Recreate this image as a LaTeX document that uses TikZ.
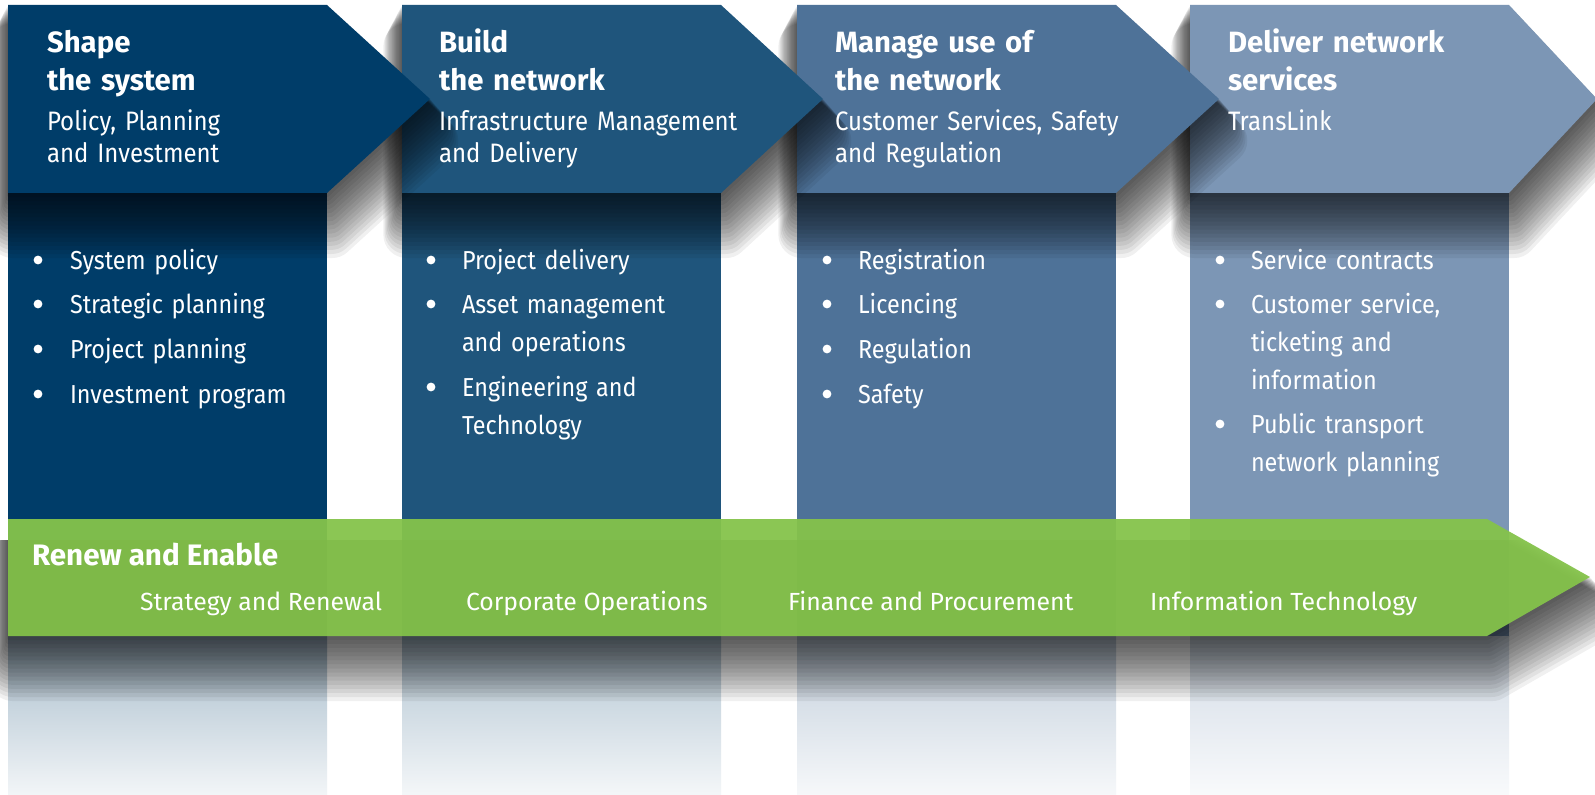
\documentclass[tikz,border=0pt]{standalone}
\usepackage{fontspec}
\setmainfont{Fira Sans}
\newfontfamily\narrowfont[FakeStretch=0.9,WordSpace=0.75]{Fira Sans}
\definecolor{cA}{RGB}{0,61,105}
\definecolor{cB}{RGB}{31,85,124}
\definecolor{cC}{RGB}{78,114,152}
\definecolor{cD}{RGB}{124,150,181}
\definecolor{grn}{RGB}{133,195,75}
\tikzset{
  ttl/.style={anchor=base west, inner sep=0pt, outer sep=0pt, text=white, text width=330pt, align=left, font=\fontsize{22pt}{28.5pt}\selectfont\bfseries},
  hsub/.style={anchor=base west, inner sep=0pt, outer sep=0pt, text=white, text width=330pt, align=left, font=\narrowfont\fontsize{20pt}{24pt}\selectfont},
  itm/.style={anchor=base west, inner sep=0pt, outer sep=0pt, text=white, text width=300pt, align=left, font=\narrowfont\fontsize{19.5pt}{28.5pt}\selectfont},
  bulletdot/.style={circle, fill=white, inner sep=0pt, minimum size=6.6pt},
  gtitle/.style={anchor=base west, inner sep=0pt, outer sep=0pt, text=white, font=\fontsize{22.2pt}{26pt}\selectfont\bfseries},
  gsub/.style={anchor=base west, inner sep=0pt, outer sep=0pt, text=white, font=\fontsize{18.6pt}{22pt}\selectfont},
}
\newcommand\softshadow[1]{%
  \foreach \k in {1,...,16}{%
    \begin{scope}[transparency group, opacity=0.06]
      \path (-80,-80) rectangle (1700,900);
      \filldraw[black, line join=round, line width=\k*2.2pt, shift={(0.3*\k,2.6*\k)}] #1;
    \end{scope}}}
\newcommand\drawcolumn[3]{% #1 left x, #2 colour, #3 tip x
  \pgfmathsetmacro\colR{#1+319}
  \fill[#2] (#1,192) rectangle (\colR,637);
  \shade[top color=#2!35!white, bottom color=#2!5!white] (#1,636) rectangle (\colR,795);
  \softshadow{(#1,5) -- (\colR,5) -- (#3,99) -- (\colR,193) -- (#1,193) -- cycle}
  \fill[#2] (#1,5) -- (\colR,5) -- (#3,99) -- (\colR,193) -- (#1,193) -- cycle;
}
\begin{document}
\begin{tikzpicture}[x=0.75pt,y=-0.75pt]
\useasboundingbox (0,0) rectangle (1595,795);
\fill[white] (0,0) rectangle (1595,795);

\drawcolumn{1190}{cD}{1597}
\drawcolumn{797}{cC}{1219}
\drawcolumn{402}{cB}{823}
\drawcolumn{8}{cA}{430}

% green band
\begin{scope}
  \clip (-100,540) rectangle (1700,900);
  \softshadow{(8,519) -- (1487,519) -- (1590,577) -- (1487,636) -- (8,636) -- cycle}
\end{scope}
\fill[grn, fill opacity=0.95] (8,519) -- (1487,519) -- (1590,577) -- (1487,636) -- (8,636) -- cycle;

% headers
\node[ttl] (t1) at (47,53) {Shape\\the system};
\node[hsub] (s1) at (47,131) {Policy, Planning\\and Investment};
\node[ttl] (t2) at (439,53) {Build\\the network};
\node[hsub] (s2) at (439,131) {Infrastructure Management\\and Delivery};
\node[ttl] (t3) at (835,53) {Manage use of\\the network};
\node[hsub] (s3) at (835,131) {Customer Services, Safety\\and Regulation};
\node[ttl] (t4) at (1228,53) {Deliver network\\services};
\node[hsub] (s4) at (1228,131) {TransLink};

% column 1 bullets
\node[bulletdot] (d11) at (38,260) {};
\node[itm] (i11) at (70,269) {System policy};
\node[bulletdot] (d12) at (38,304) {};
\node[itm] (i12) at (70,313) {Strategic planning};
\node[bulletdot] (d13) at (38,349) {};
\node[itm] (i13) at (70,358) {Project planning};
\node[bulletdot] (d14) at (38,394) {};
\node[itm] (i14) at (70,403) {Investment program};

% column 2 bullets
\node[bulletdot] (d21) at (431,260) {};
\node[itm] (i21) at (462,269) {Project delivery};
\node[bulletdot] (d22) at (431,304) {};
\node[itm] (i22) at (462,313) {Asset management\\and operations};
\node[bulletdot] (d23) at (431,387) {};
\node[itm] (i23) at (462,396) {Engineering and\\Technology};

% column 3 bullets
\node[bulletdot] (d31) at (827,260) {};
\node[itm] (i31) at (858,269) {Registration};
\node[bulletdot] (d32) at (827,304) {};
\node[itm] (i32) at (858,313) {Licencing};
\node[bulletdot] (d33) at (827,349) {};
\node[itm] (i33) at (858,358) {Regulation};
\node[bulletdot] (d34) at (827,394) {};
\node[itm] (i34) at (858,403) {Safety};

% column 4 bullets
\node[bulletdot] (d41) at (1220,260) {};
\node[itm] (i41) at (1251,269) {Service contracts};
\node[bulletdot] (d42) at (1220,304) {};
\node[itm] (i42) at (1251,313) {Customer service,\\ticketing and\\information};
\node[bulletdot] (d43) at (1220,424) {};
\node[itm] (i43) at (1251,433) {Public transport\\network planning};

% green texts
\node[gtitle] (g0) at (32,565) {Renew and Enable};
\node[gsub] (g1) at (140,610) {Strategy and Renewal};
\node[gsub] (g2) at (466,610) {Corporate Operations};
\node[gsub] (g3) at (788,610) {Finance and Procurement};
\node[gsub] (g4) at (1150,610) {Information Technology};
\end{tikzpicture}
\end{document}
